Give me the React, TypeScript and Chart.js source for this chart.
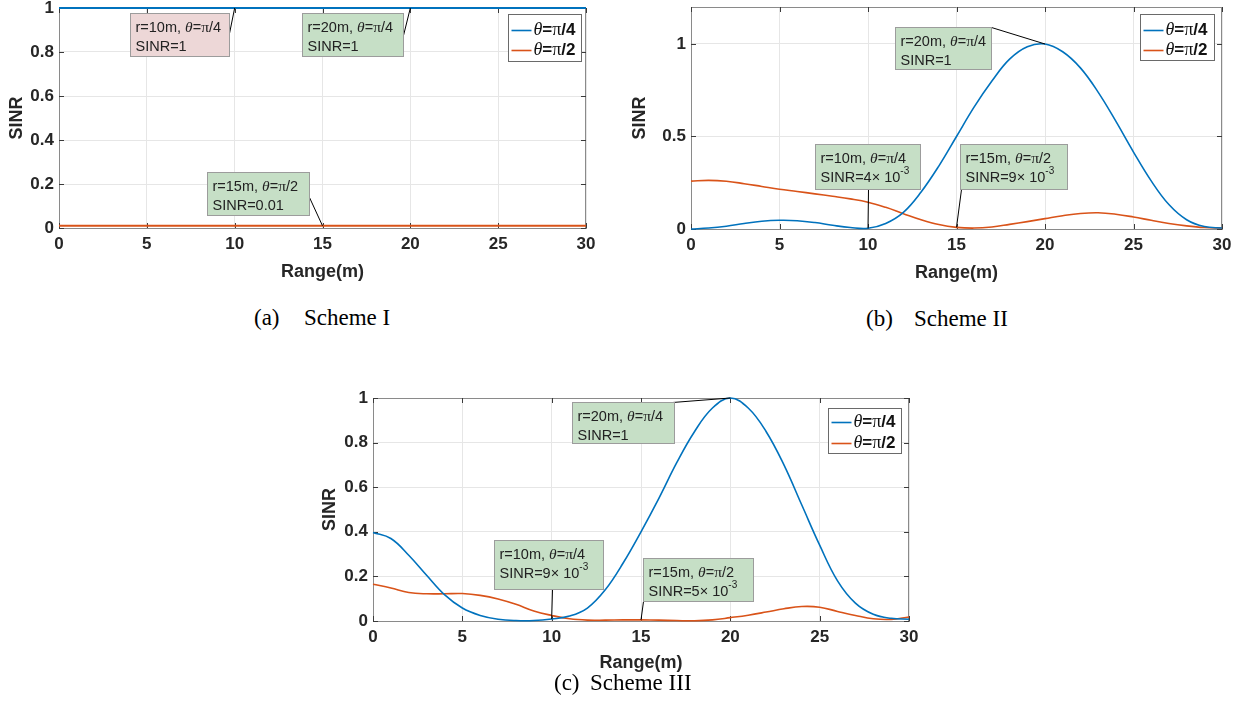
import React, { useEffect, useRef } from 'react';
import { Chart, registerables } from 'chart.js';

Chart.register(...registerables);

// ---------------- data ----------------
const rangeM = [0, 1, 2, 3, 4, 5, 6, 7, 8, 9, 10, 11, 12, 13, 14, 15, 16, 17, 18, 19, 20, 21, 22, 23, 24, 25, 26, 27, 28, 29, 30];
const seriesLabels = ['θ=π/4', 'θ=π/2'];
const xTicks = [0, 5, 10, 15, 20, 25, 30];
const yTicksI = [0, 0.2, 0.4, 0.6, 0.8, 1];
const yTicksII = [0, 0.5, 1];
const yTicksIII = [0, 0.2, 0.4, 0.6, 0.8, 1];

const schemeI_pi4 = [1, 1, 1, 1, 1, 1, 1, 1, 1, 1, 1, 1, 1, 1, 1, 1, 1, 1, 1, 1, 1, 1, 1, 1, 1, 1, 1, 1, 1, 1, 1];
const schemeI_pi2 = [0.01, 0.01, 0.01, 0.01, 0.01, 0.01, 0.01, 0.01, 0.01, 0.01, 0.01, 0.01, 0.01, 0.01, 0.01, 0.01, 0.01, 0.01, 0.01, 0.01, 0.01, 0.01, 0.01, 0.01, 0.01, 0.01, 0.01, 0.01, 0.01, 0.01, 0.01];

const schemeII_pi4 = [0.0, 0.005, 0.015, 0.03, 0.042, 0.047, 0.045, 0.035, 0.02, 0.008, 0.004, 0.03, 0.09, 0.2, 0.34, 0.5, 0.66, 0.8, 0.918, 0.985, 1.0, 0.958, 0.871, 0.74, 0.583, 0.416, 0.26, 0.132, 0.05, 0.013, 0.005];
const schemeII_pi2 = [0.259, 0.263, 0.258, 0.245, 0.23, 0.215, 0.203, 0.19, 0.177, 0.163, 0.145, 0.117, 0.083, 0.05, 0.024, 0.009, 0.005, 0.011, 0.025, 0.04, 0.056, 0.072, 0.084, 0.088, 0.08, 0.065, 0.047, 0.03, 0.017, 0.008, 0.005];

const schemeIII_pi4 = [0.397, 0.37, 0.295, 0.205, 0.118, 0.058, 0.025, 0.008, 0.002, 0.002, 0.009, 0.022, 0.058, 0.14, 0.26, 0.4, 0.55, 0.71, 0.85, 0.955, 1.0, 0.955, 0.85, 0.7, 0.52, 0.34, 0.18, 0.08, 0.03, 0.012, 0.008];
const schemeIII_pi2 = [0.165, 0.148, 0.128, 0.122, 0.122, 0.123, 0.115, 0.099, 0.075, 0.045, 0.025, 0.01, 0.004, 0.004, 0.005, 0.005, 0.004, 0.002, 0.001, 0.005, 0.015, 0.026, 0.04, 0.055, 0.065, 0.062, 0.043, 0.025, 0.01, 0.007, 0.018];

// annotation texts (point = range value + series index)
const annotTextI = [
  { x: 10, s: 0, l1: 'r=10m, θ=π/4', l2: 'SINR=1' },
  { x: 20, s: 0, l1: 'r=20m, θ=π/4', l2: 'SINR=1' },
  { x: 15, s: 1, l1: 'r=15m, θ=π/2', l2: 'SINR=0.01' },
];
const annotTextII = [
  { x: 20, s: 0, l1: 'r=20m, θ=π/4', l2: 'SINR=1' },
  { x: 10, s: 0, l1: 'r=10m, θ=π/4', l2: 'SINR=4× 10^-3' },
  { x: 15, s: 1, l1: 'r=15m, θ=π/2', l2: 'SINR=9× 10^-3' },
];
const annotTextIII = [
  { x: 20, s: 0, l1: 'r=20m, θ=π/4', l2: 'SINR=1' },
  { x: 10, s: 0, l1: 'r=10m, θ=π/4', l2: 'SINR=9× 10^-3' },
  { x: 15, s: 1, l1: 'r=15m, θ=π/2', l2: 'SINR=5× 10^-3' },
];

// ---------------- styles / layout ----------------
const SANS = '"Liberation Sans", Arial, Helvetica, sans-serif';
const SERIF = '"Liberation Serif", "Times New Roman", serif';
const COLORS = ['#0072BD', '#D95319'];
const GRID = '#e6e6e6';
const AXIS = '#8a8a8a';
const TICKC = '#3a3a3a';
const TEXT = '#262626';
const GREEN = '#C6DFC6';
const PINK = '#EDD7D7';
const TITLE_SIZE = 18;
const TICK_SIZE = 17;
const ANN_SIZE = 14.5;
const LEG_SIZE = 17;

// box geometry relative to the annotated data point (dx, dy = box top-left; ax, ay = leader start inside box)
const annotBoxI = [
  { dx: -105, dy: 5, w: 99, h: 43, ax: 99, ay: 20, fill: PINK },
  { dx: -108, dy: 5, w: 101, h: 43, ax: 101, ay: 22, fill: GREEN },
  { dx: -116, dy: -54, w: 102, h: 43, ax: 102, ay: 25, fill: GREEN },
];
const annotBoxII = [
  { dx: -150, dy: -17, w: 96, h: 42, ax: 96, ay: 0, fill: GREEN },
  { dx: -53, dy: -84, w: 105, h: 45, ax: 53, ay: 45, fill: GREEN },
  { dx: 3, dy: -83, w: 107, h: 45, ax: 1, ay: 45, fill: GREEN },
];
const annotBoxIII = [
  { dx: -158, dy: 4, w: 102, h: 41, ax: 100, ay: 0, fill: GREEN },
  { dx: -58, dy: -79, w: 109, h: 49, ax: 58, ay: 49, fill: GREEN },
  { dx: 2, dy: -62, w: 110, h: 43, ax: 0, ay: 43, fill: GREEN },
];

type Seg = { t: string; f: string; dy: number };

function richSegs(text: string, size: number, weight: string): Seg[] {
  const segs: Seg[] = [];
  let sup = false;
  for (const ch of text) {
    if (ch === '^') { sup = true; continue; }
    let f: string;
    if (ch === 'θ') f = `italic ${size + 1}px ${SERIF}`;
    else if (ch === 'π') f = `${size + 1}px ${SERIF}`;
    else if (sup) f = `${weight} ${Math.round(size * 0.72)}px ${SANS}`;
    else f = `${weight} ${size}px ${SANS}`;
    const dy = sup ? -Math.round(size * 0.38) : 0;
    const last = segs[segs.length - 1];
    if (last && last.f === f && last.dy === dy) last.t += ch;
    else segs.push({ t: ch, f, dy });
  }
  return segs;
}

function drawSegs(ctx: CanvasRenderingContext2D, x: number, y: number, segs: Seg[]) {
  let cx = x;
  ctx.textBaseline = 'middle';
  ctx.textAlign = 'left';
  for (const s of segs) {
    ctx.font = s.f;
    ctx.fillText(s.t, cx, y + s.dy);
    cx += ctx.measureText(s.t).width;
  }
}

function seg(ctx: CanvasRenderingContext2D, x1: number, y1: number, x2: number, y2: number) {
  ctx.beginPath();
  ctx.moveTo(x1, y1);
  ctx.lineTo(x2, y2);
  ctx.stroke();
}

type Spec = {
  left: number; top: number; w: number; h: number;
  plot: { l: number; r: number; t: number; b: number };
  xTitleY: number; yTitleX: number; yMax: number; yTicks: number[];
  lineWidth: number; series: number[][];
  annText: { x: number; s: number; l1: string; l2: string }[];
  annBox: { dx: number; dy: number; w: number; h: number; ax: number; ay: number; fill: string }[];
  legend: { right: number; top: number; w: number; h: number; row0: number; gap: number };
};

function decorPlugin(spec: Spec) {
  return {
    id: 'decor',
    beforeDatasetsDraw(chart: any) {
      const { ctx, chartArea: a, scales } = chart;
      const xs = scales.x, ys = scales.y;
      ctx.save();
      ctx.strokeStyle = AXIS;
      ctx.lineWidth = 1;
      seg(ctx, a.left, a.top + 0.5, a.right, a.top + 0.5);
      seg(ctx, a.right - 0.5, a.top, a.right - 0.5, a.bottom);
      ctx.strokeStyle = TICKC;
      for (const v of xTicks) {
        const px = Math.round(xs.getPixelForValue(v)) + 0.5;
        seg(ctx, px, a.bottom, px, a.bottom - 5);
        seg(ctx, px, a.top, px, a.top + 5);
      }
      for (const v of spec.yTicks) {
        const py = Math.round(ys.getPixelForValue(v)) + 0.5;
        seg(ctx, a.left, py, a.left + 5, py);
        seg(ctx, a.right, py, a.right - 5, py);
      }
      ctx.restore();
    },
    afterDatasetsDraw(chart: any) {
      const { ctx, chartArea: a, scales } = chart;
      const xs = scales.x, ys = scales.y;
      ctx.save();
      // annotations
      spec.annText.forEach((an, i) => {
        const b = spec.annBox[i];
        const idx = rangeM.indexOf(an.x);
        const px = xs.getPixelForValue(an.x);
        const py = ys.getPixelForValue(spec.series[an.s][idx]);
        const bx = Math.round(px + b.dx) + 0.5;
        const by = Math.round(py + b.dy) + 0.5;
        ctx.strokeStyle = '#000';
        ctx.lineWidth = 1;
        seg(ctx, bx + b.ax, by + b.ay, px, py);
        ctx.fillStyle = b.fill;
        ctx.fillRect(bx, by, b.w, b.h);
        ctx.strokeStyle = '#9c9c9c';
        ctx.strokeRect(bx, by, b.w, b.h);
        ctx.fillStyle = '#222';
        drawSegs(ctx, bx + 5, by + 14, richSegs(an.l1, ANN_SIZE, 'normal'));
        drawSegs(ctx, bx + 5, by + 33, richSegs(an.l2, ANN_SIZE, 'normal'));
      });
      // legend
      const lg = spec.legend;
      const lx = Math.round(a.right - lg.right - lg.w) + 0.5;
      const ly = Math.round(a.top + lg.top) + 0.5;
      ctx.fillStyle = '#fff';
      ctx.fillRect(lx, ly, lg.w, lg.h);
      ctx.strokeStyle = '#6a6a6a';
      ctx.lineWidth = 1;
      ctx.strokeRect(lx, ly, lg.w, lg.h);
      seriesLabels.forEach((lab, i) => {
        const ry = ly + lg.row0 + i * lg.gap;
        ctx.strokeStyle = COLORS[i];
        ctx.lineWidth = 1.6;
        seg(ctx, lx + 3, ry, lx + 23, ry);
        ctx.fillStyle = '#111';
        drawSegs(ctx, lx + 25, ry, richSegs(lab, LEG_SIZE, 'bold'));
      });
      ctx.restore();
    },
  };
}

function buildChart(canvas: HTMLCanvasElement, spec: Spec) {
  const lh = TITLE_SIZE * 1.2;
  const axisBottom = spec.xTitleY + lh / 2;
  const tickFont = { family: SANS, size: TICK_SIZE, weight: 'bold' as const };
  const titleFont = { family: SANS, size: TITLE_SIZE, weight: 'bold' as const };
  const datasets = spec.series.map((vals, i) => ({
    label: seriesLabels[i],
    data: rangeM.map((x, j) => ({ x, y: vals[j] })),
    borderColor: COLORS[i],
    backgroundColor: COLORS[i],
    borderWidth: spec.lineWidth,
    pointRadius: 0,
    fill: false,
    tension: 0.4,
    clip: 8,
  }));
  return new Chart(canvas, {
    type: 'line',
    data: { datasets },
    options: {
      animation: false,
      responsive: false,
      events: [],
      layout: { padding: { left: 0, top: spec.plot.t, right: spec.w - spec.plot.r, bottom: spec.h - axisBottom } },
      plugins: { legend: { display: false }, tooltip: { enabled: false } },
      scales: {
        x: {
          type: 'linear',
          min: 0,
          max: 30,
          afterBuildTicks: (s: any) => { s.ticks = xTicks.map((v) => ({ value: v })); },
          afterFit: (s: any) => { s.height = axisBottom - spec.plot.b; s.paddingLeft = 0; s.paddingRight = 0; },
          grid: { color: GRID, drawTicks: false, lineWidth: 1 },
          border: { color: AXIS, width: 1 },
          ticks: { padding: 6, font: tickFont, color: TEXT, maxRotation: 0, autoSkip: false, callback: (v: any) => String(v) },
          title: { display: true, text: 'Range(m)', font: titleFont, color: TEXT, padding: { top: 0, bottom: 0 } },
        },
        y: {
          type: 'linear',
          min: 0,
          max: spec.yMax,
          afterBuildTicks: (s: any) => { s.ticks = spec.yTicks.map((v) => ({ value: v })); },
          afterFit: (s: any) => { s.width = spec.plot.l; s.paddingTop = 0; s.paddingBottom = 0; },
          grid: { color: GRID, drawTicks: false, lineWidth: 1 },
          border: { color: AXIS, width: 1 },
          ticks: { padding: 5, font: tickFont, color: TEXT, autoSkip: false, callback: (v: any) => String(v) },
          title: { display: true, text: 'SINR', font: titleFont, color: TEXT, padding: { top: spec.yTitleX - lh / 2, bottom: 0 } },
        },
      },
    },
    plugins: [decorPlugin(spec)],
  } as any);
}

const specs: Spec[] = [
  {
    left: 0, top: 0, w: 620, h: 290,
    plot: { l: 59, r: 586, t: 8, b: 228 },
    xTitleY: 272, yTitleX: 17.5, yMax: 1, yTicks: yTicksI, lineWidth: 2,
    series: [schemeI_pi4, schemeI_pi2],
    annText: annotTextI, annBox: annotBoxI,
    legend: { right: 5, top: 6, w: 73, h: 47, row0: 16, gap: 20 },
  },
  {
    left: 620, top: 0, w: 624, h: 290,
    plot: { l: 71, r: 602, t: 7, b: 229 },
    xTitleY: 273, yTitleX: 20, yMax: 1.2, yTicks: yTicksII, lineWidth: 1.6,
    series: [schemeII_pi4, schemeII_pi2],
    annText: annotTextII, annBox: annotBoxII,
    legend: { right: 8, top: 7, w: 74, h: 46, row0: 16, gap: 20 },
  },
  {
    left: 300, top: 380, w: 620, h: 320,
    plot: { l: 73, r: 609, t: 18, b: 241 },
    xTitleY: 283, yTitleX: 30, yMax: 1, yTicks: yTicksIII, lineWidth: 1.6,
    series: [schemeIII_pi4, schemeIII_pi2],
    annText: annotTextIII, annBox: annotBoxIII,
    legend: { right: 8, top: 10, w: 73, h: 45, row0: 14, gap: 21 },
  },
];

const captions = [
  { tag: '(a)', name: 'Scheme I', x1: 254, x2: 304, cy: 318 },
  { tag: '(b)', name: 'Scheme II', x1: 866, x2: 914, cy: 319 },
  { tag: '(c)', name: 'Scheme III', x1: 554, x2: 590, cy: 683 },
];

function ChartPanel({ spec }: { spec: Spec }) {
  const ref = useRef<HTMLCanvasElement | null>(null);
  useEffect(() => {
    if (!ref.current) return;
    const c = buildChart(ref.current, spec);
    return () => c.destroy();
  }, [spec]);
  return (
    <canvas
      ref={ref}
      width={spec.w}
      height={spec.h}
      style={{ position: 'absolute', left: spec.left, top: spec.top, width: spec.w, height: spec.h }}
    />
  );
}

export default function App() {
  Chart.defaults.font.family = SANS;
  return (
    <div style={{ position: 'absolute', left: 0, top: 0, width: 1244, height: 707, background: '#fff', overflow: 'hidden' }}>
      {specs.map((s, i) => <ChartPanel key={i} spec={s} />)}
      {captions.map((c, i) => (
        <React.Fragment key={i}>
          <div style={{ position: 'absolute', left: c.x1, top: c.cy - 12, fontFamily: SERIF, fontSize: 23, lineHeight: '23px', color: '#000', whiteSpace: 'nowrap' }}>{c.tag}</div>
          <div style={{ position: 'absolute', left: c.x2, top: c.cy - 12, fontFamily: SERIF, fontSize: 23, lineHeight: '23px', color: '#000', whiteSpace: 'nowrap' }}>{c.name}</div>
        </React.Fragment>
      ))}
    </div>
  );
}
